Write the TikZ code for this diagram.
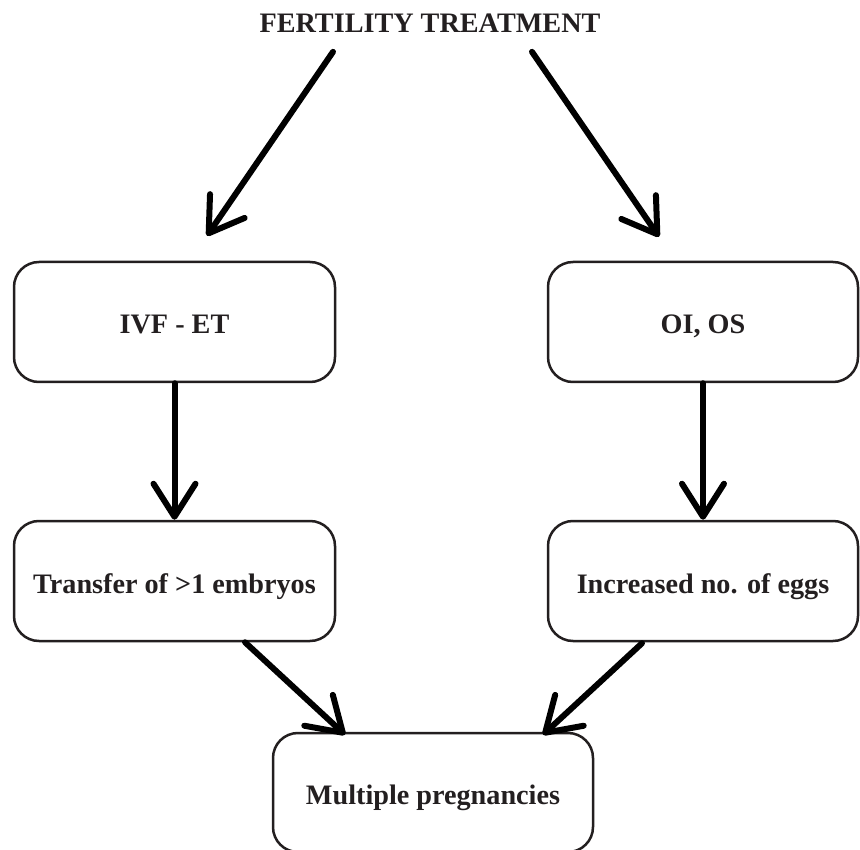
\documentclass[tikz,border=0pt]{standalone}
\usepackage{fontspec}
\setmainfont{Liberation Serif}
\usepackage{tikz}
\usetikzlibrary{arrows.meta,calc,positioning}
\definecolor{inkgray}{HTML}{231F20}
\tikzset{
    box/.style={draw=inkgray, line width=2.5pt, rounded corners=25pt,
        minimum width=321pt, minimum height=120pt, text=inkgray,
        text height=28pt, text depth=4pt,
        font=\bfseries\fontsize{28.2}{32}\selectfont},
    arr/.style={line width=6pt, line cap=round,
        -{Straight Barb[length=33pt,width=42pt,round]}},
}

\begin{document}
\begin{tikzpicture}[x=1pt,y=-1pt]
\useasboundingbox (0,0) rectangle (860,850);
\clip (0,0) rectangle (860,850);

\node[text=inkgray, font=\bfseries\fontsize{28.2}{32}\selectfont] (title) at (430,23) {FERTILITY TREATMENT};

\node[box] (ivf) at (174.5,322) {IVF - ET};
\node[box, minimum width=310pt] (oi) at (703,322) {OI, OS};
\node[box] (transfer) at (174.5,581) {Transfer of >1 embryos};
\node[box, minimum width=310pt] (eggs) at (703,581) {Increased no. of eggs};
\node[box, minimum width=320pt, minimum height=119pt] (multi) at (433,792.5) {Multiple pregnancies};

% from the title down to the two treatments
\draw[arr] ($(title.south)+(-97,16)$) -- ($(ivf.north)+(32.5,-25)$);
\draw[arr] ($(title.south)+(102,16)$) -- ($(oi.north)+(-44,-24)$);

\draw[arr] (ivf) -- (transfer);
\draw[arr] (oi) -- (eggs);

% both lead to multiple pregnancies
\draw[arr] ($(transfer.south)+(70.5,0)$) -- ($(multi.north)+(-88,3)$);
\draw[arr] ($(eggs.south)+(-61,1)$) -- ($(multi.north)+(110,3)$);

\end{tikzpicture}
\end{document}
